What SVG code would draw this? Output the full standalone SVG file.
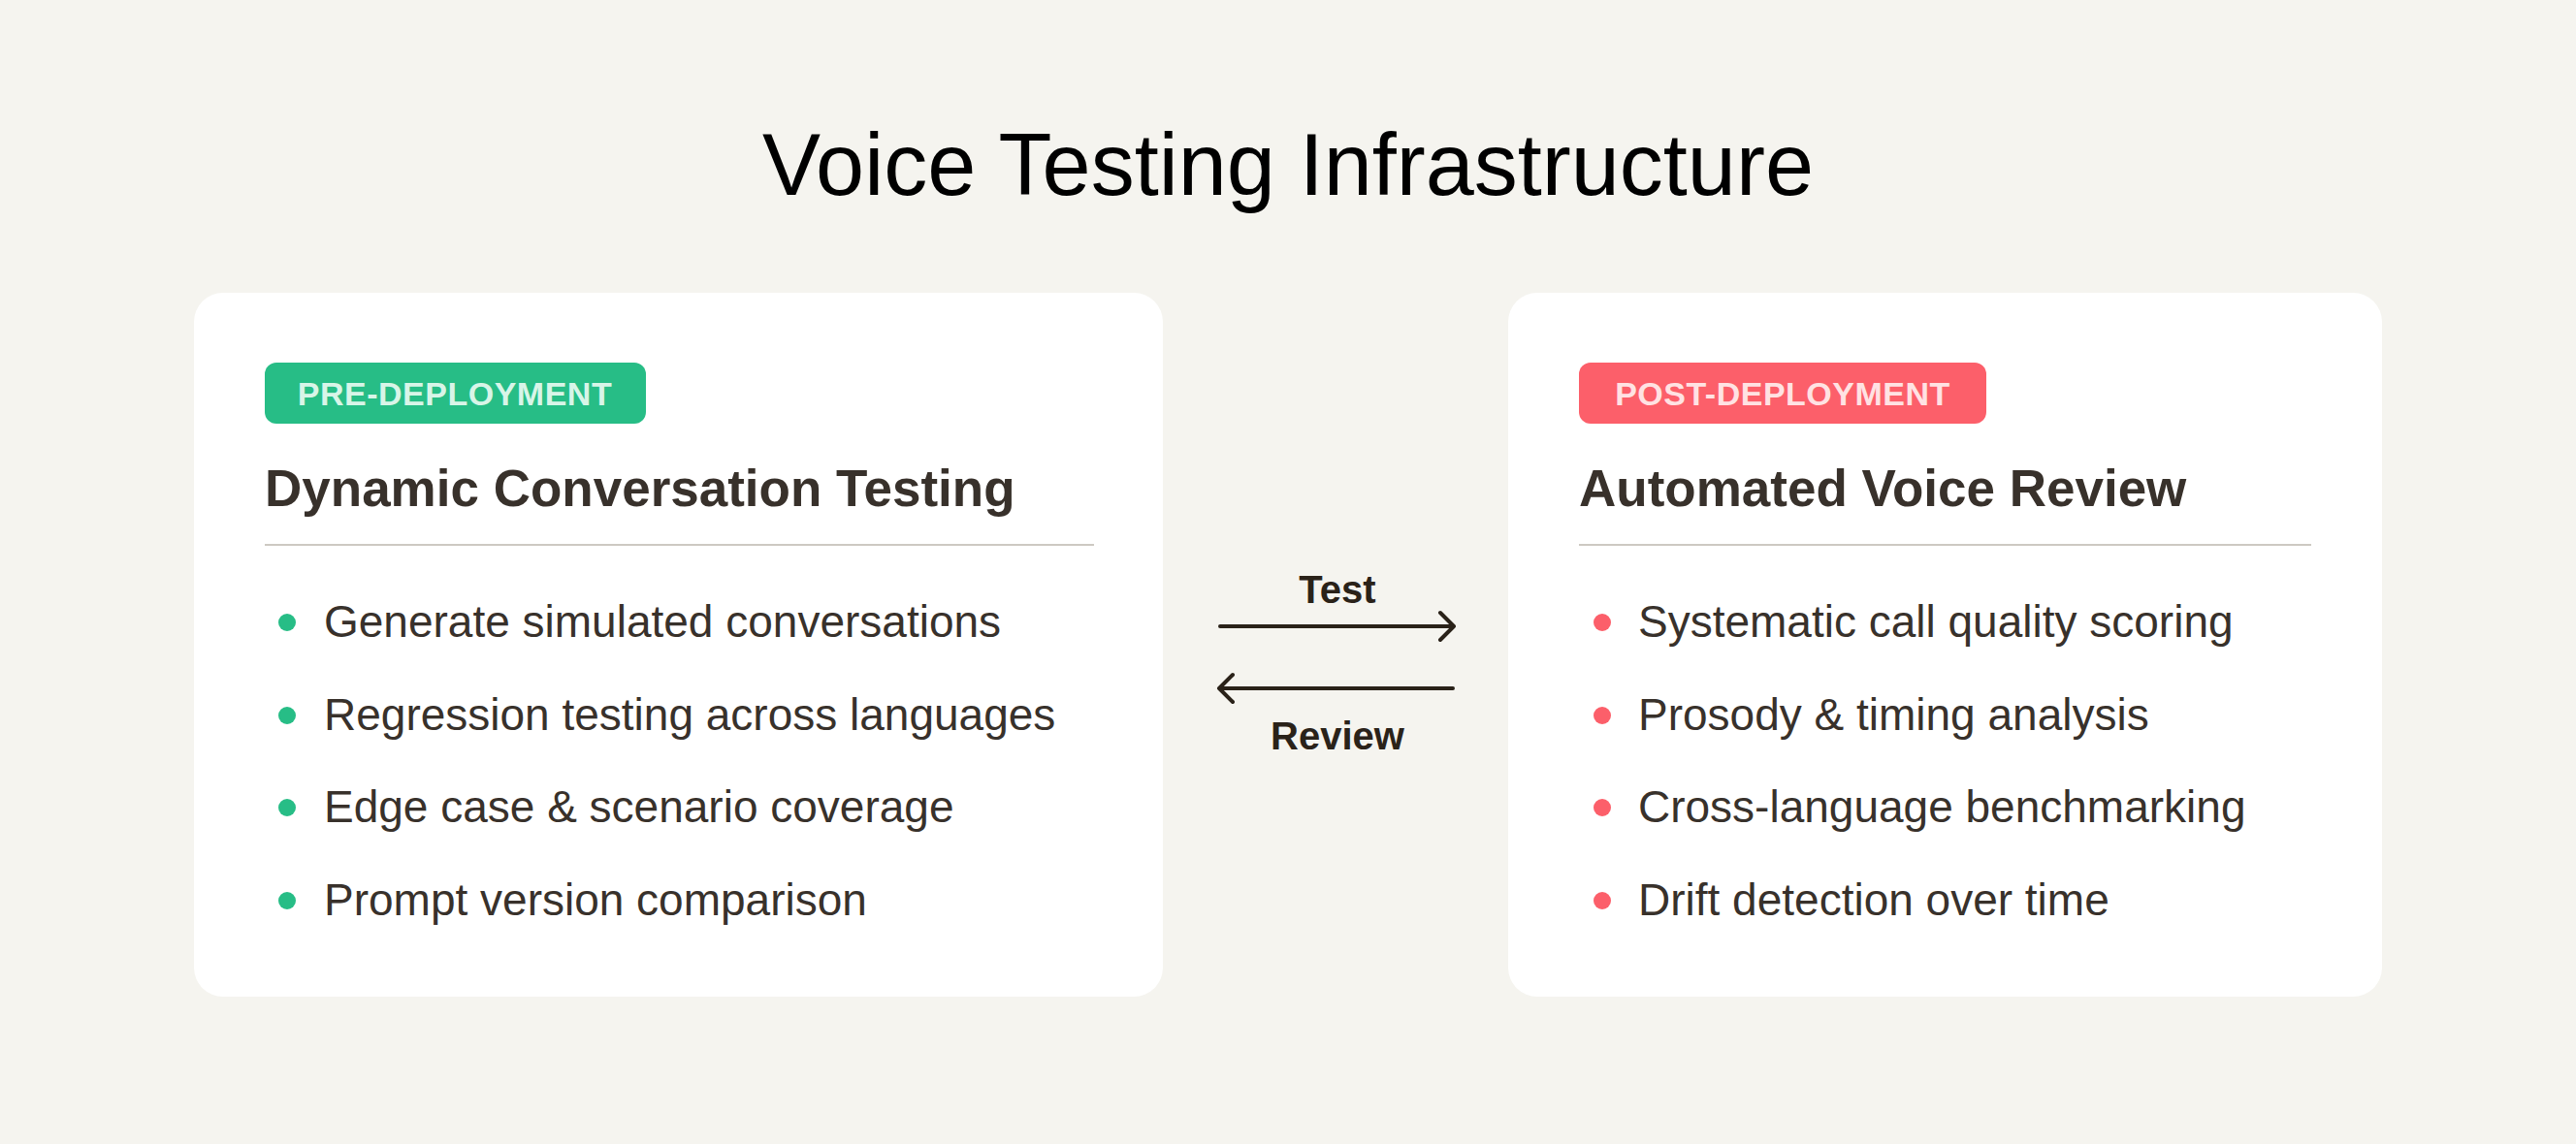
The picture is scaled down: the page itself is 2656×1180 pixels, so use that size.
<svg xmlns="http://www.w3.org/2000/svg" width="2656" height="1180" viewBox="0 0 2656 1180">
<style>
.card{fill:#ffffff}
.badge-t{font-family:"Liberation Sans",Arial,sans-serif;font-weight:bold;font-size:34px;letter-spacing:0.5px}
.h{font-family:"Liberation Sans",Arial,sans-serif;font-weight:bold;font-size:53px;fill:#38312b}
.li{font-family:"Liberation Sans",Arial,sans-serif;font-size:46px;fill:#38312b}
.div{stroke:#cdc9c2;stroke-width:2}
.lbl{font-family:"Liberation Sans",Arial,sans-serif;font-weight:bold;font-size:40px;fill:#2a2219;text-anchor:middle}
.arr{stroke:#2a2219;stroke-width:4;fill:none;stroke-linecap:round;stroke-linejoin:round}
</style>
<rect width="2656" height="1180" fill="#f5f4ef"/>
<text x="1328" y="201" text-anchor="middle" font-family="Liberation Sans, Arial, sans-serif" font-size="90" fill="#000">Voice Testing Infrastructure</text>
<g id="pre">
<rect class="card" x="200" y="302" width="999" height="726" rx="30"/>
<rect x="273" y="374" width="393" height="63" rx="12" fill="#27bd86"/>
<text class="badge-t" x="469" y="418" text-anchor="middle" fill="#d8f5e8">PRE-DEPLOYMENT</text>
<text class="h" x="273" y="522">Dynamic Conversation Testing</text>
<line class="div" x1="273" y1="562" x2="1128" y2="562"/>
<g fill="#27bd86"><circle cx="296" cy="642" r="9"/><circle cx="296" cy="738" r="9"/><circle cx="296" cy="833" r="9"/><circle cx="296" cy="929" r="9"/></g>
<text class="li" x="334" y="657">Generate simulated conversations</text>
<text class="li" x="334" y="753">Regression testing across languages</text>
<text class="li" x="334" y="848">Edge case &amp; scenario coverage</text>
<text class="li" x="334" y="944">Prompt version comparison</text>
</g>
<g id="post">
<rect class="card" x="1555" y="302" width="901" height="726" rx="30"/>
<rect x="1628" y="374" width="420" height="63" rx="12" fill="#fc5f6a"/>
<text class="badge-t" x="1838" y="418" text-anchor="middle" fill="#ffe2e3">POST-DEPLOYMENT</text>
<text class="h" x="1628" y="522">Automated Voice Review</text>
<line class="div" x1="1628" y1="562" x2="2383" y2="562"/>
<g fill="#fc5f6a"><circle cx="1652" cy="642" r="9"/><circle cx="1652" cy="738" r="9"/><circle cx="1652" cy="833" r="9"/><circle cx="1652" cy="929" r="9"/></g>
<text class="li" x="1689" y="657">Systematic call quality scoring</text>
<text class="li" x="1689" y="753">Prosody &amp; timing analysis</text>
<text class="li" x="1689" y="848">Cross-language benchmarking</text>
<text class="li" x="1689" y="944">Drift detection over time</text>
</g>
<g id="connectors">
<text class="lbl" x="1379" y="622">Test</text>
<path class="arr" d="M1258 646H1499M1485 632L1499 646L1485 660"/>
<path class="arr" d="M1498 710H1257M1271 696L1257 710L1271 724"/>
<text class="lbl" x="1379" y="773">Review</text>
</g>
</svg>
